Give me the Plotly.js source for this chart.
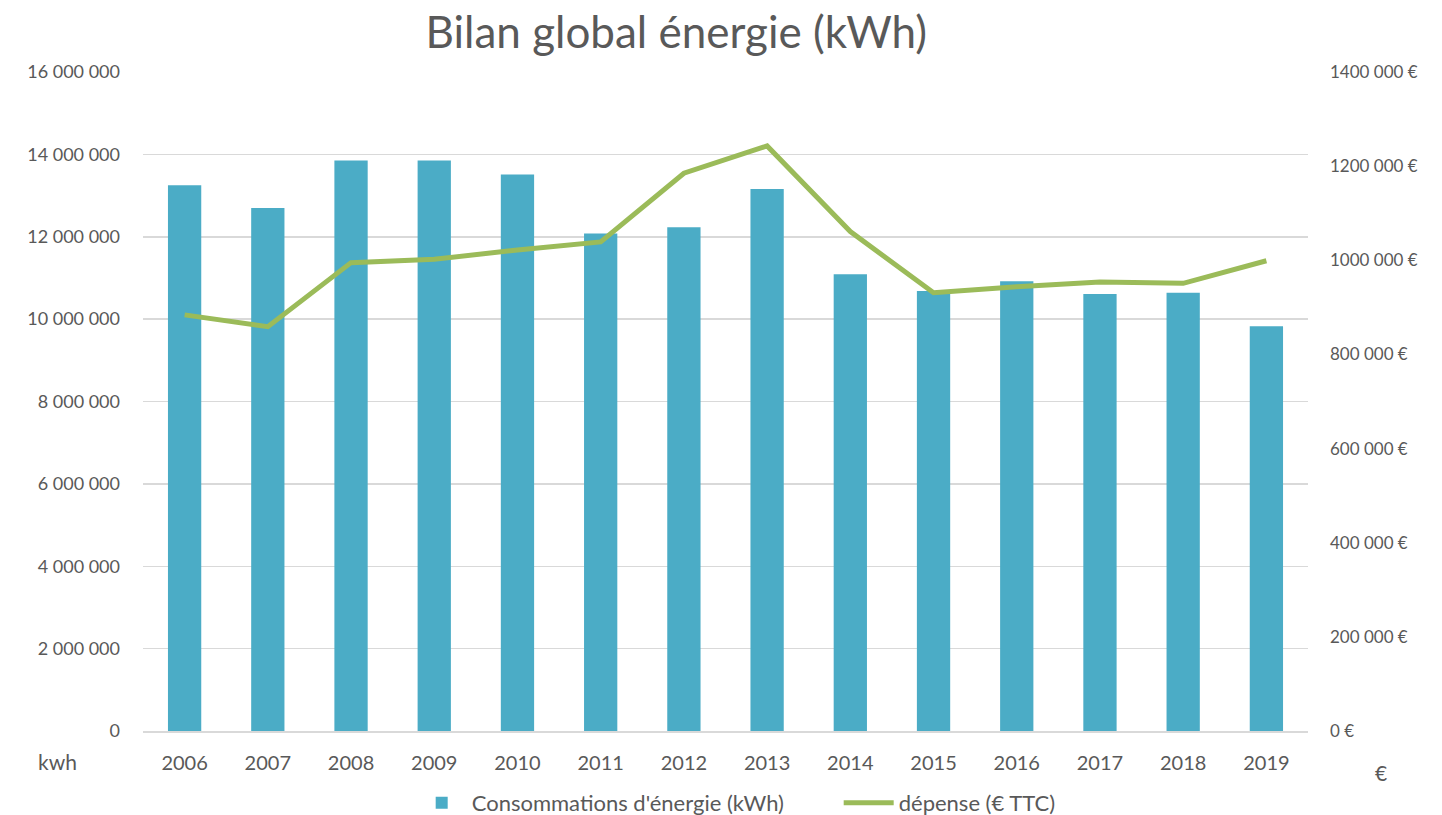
<!DOCTYPE html>
<html>
<head>
<meta charset="utf-8">
<script src="https://cdn.plot.ly/plotly-3.0.1.min.js"></script>
<style>html,body{margin:0;padding:0;background:#fff;}#chart{width:1442px;height:815px;}</style>
</head>
<body>
<div id="chart"></div>
<script>
const years = ['2006','2007','2008','2009','2010','2011','2012','2013','2014','2015','2016','2017','2018','2019'];
const consommationKwh = [13250000, 12700000, 13850000, 13850000, 13510000, 12080000, 12230000, 13160000, 11090000, 10680000, 10920000, 10610000, 10640000, 9830000];
const depenseEuro = [884000, 859000, 995000, 1002000, 1022000, 1039000, 1185000, 1243000, 1061000, 931000, 944000, 954000, 951000, 999000];
const leftTickVals = [0, 2000000, 4000000, 6000000, 8000000, 10000000, 12000000, 14000000, 16000000];
const leftTickText = ['0', '2 000 000', '4 000 000', '6 000 000', '8 000 000', '10 000 000', '12 000 000', '14 000 000', '16 000 000'];
const rightTickVals = [0, 200000, 400000, 600000, 800000, 1000000, 1200000, 1400000];
const rightTickText = ['0 €', '200 000 €', '400 000 €', '600 000 €', '800 000 €', '1000 000 €', '1200 000 €', '1400 000 €'];

const FONT = 'Lato, "Open Sans", sans-serif';
const GREY = '#595959';

const traces = [
  {
    type: 'bar', x: years, y: consommationKwh,
    name: "Consommations d'énergie (kWh)",
    marker: {color: '#4BACC6'},
    yaxis: 'y'
  },
  {
    type: 'scatter', mode: 'lines', x: years, y: depenseEuro,
    name: 'dépense (€ TTC)',
    line: {color: '#9BBB59', width: 5},
    yaxis: 'y2'
  }
];

const layout = {
  width: 1442, height: 815,
  paper_bgcolor: '#ffffff', plot_bgcolor: '#ffffff',
  font: {family: FONT, color: GREY, size: 17},
  margin: {l: 143, r: 134, t: 72, b: 84, autoexpand: false},
  title: {text: 'Bilan global énergie (kWh)', font: {family: FONT, size: 44, color: GREY}, xref: 'container', x: 0.469, xanchor: 'center', yref: 'container', y: 0.96, yanchor: 'middle'},
  bargap: 0.6,
  showlegend: true,
  legend: {orientation: 'h', xref: 'container', x: 0.2855, xanchor: 'left', yref: 'container', y: 0.0147, yanchor: 'middle', font: {size: 22, color: GREY}, itemwidth: 50, entrywidth: 362, traceorder: 'normal'},
  xaxis: {
    type: 'category', showgrid: false, ticks: '', showline: true, linecolor: '#D9D9D9', linewidth: 1.5,
    tickfont: {size: 20, color: GREY}, ticklabelstandoff: 13
  },
  yaxis: {
    range: [0, 16000000], tickvals: leftTickVals, ticktext: leftTickText,
    showgrid: true, gridcolor: '#D9D9D9', gridwidth: 1.5, zeroline: false, showline: false,
    tickfont: {size: 18, color: GREY}, ticklabelstandoff: 22
  },
  yaxis2: {
    range: [0, 1400000], tickvals: rightTickVals, ticktext: rightTickText,
    overlaying: 'y', side: 'right', showgrid: false, zeroline: false, showline: false,
    tickfont: {size: 17, color: GREY}, ticklabelstandoff: 21
  },
  annotations: [
    {text: 'kwh', xref: 'paper', yref: 'paper', x: -0.073, y: -0.047, xanchor: 'center', yanchor: 'middle', showarrow: false, font: {size: 21, color: GREY}},
    {text: '€', xref: 'paper', yref: 'paper', x: 1.063, y: -0.063, xanchor: 'center', yanchor: 'middle', showarrow: false, font: {size: 21, color: GREY}}
  ]
};

Plotly.newPlot('chart', traces, layout, {displayModeBar: false, staticPlot: true});
</script>
</body>
</html>
